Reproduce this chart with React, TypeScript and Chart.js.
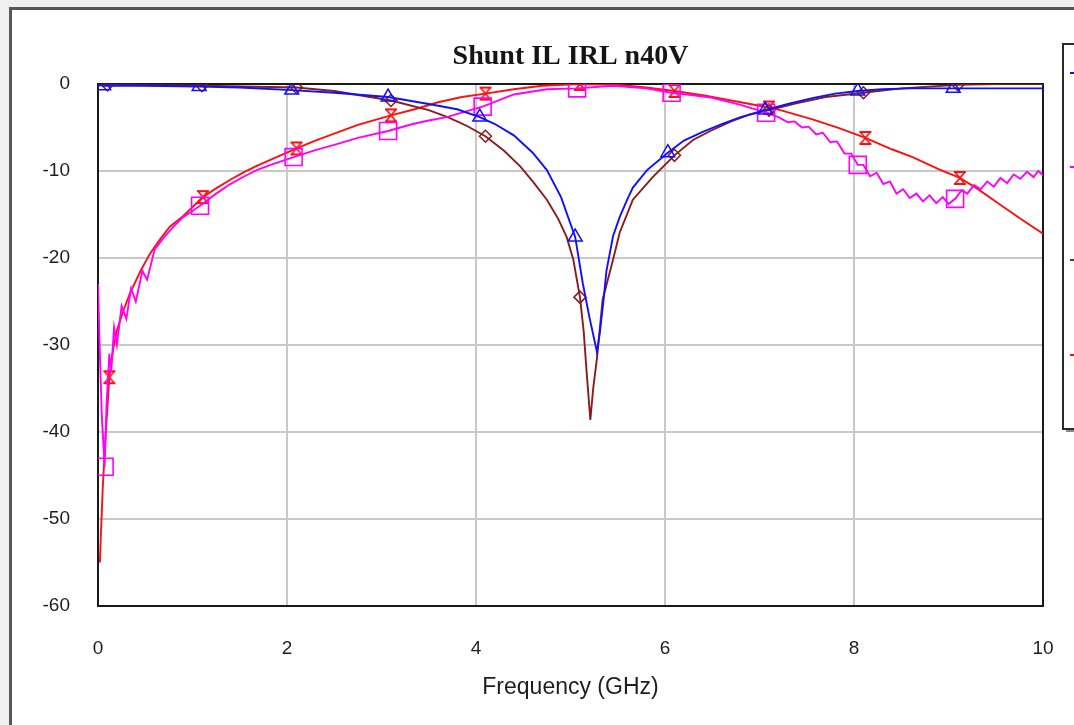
import React, { useEffect, useRef } from "react";
import { Chart, registerables } from "chart.js";

Chart.register(...registerables);

// [frequency GHz, dB]
const blueIL: [number, number][] = [
  [0, -0.1], [0.06, -0.2], [0.5, -0.2], [1.07, -0.3], [1.5, -0.4], [2.05, -0.7], [2.5, -1.0],
  [3.07, -1.5], [3.5, -2.3], [3.8, -2.9], [4.04, -3.8], [4.2, -4.6], [4.4, -5.9], [4.6, -7.9],
  [4.75, -9.9], [4.9, -13.0], [5.05, -17.6], [5.13, -22.9], [5.2, -26.8], [5.28, -30.8],
  [5.31, -28.6], [5.35, -24.8], [5.38, -21.5], [5.45, -17.5], [5.52, -15.3], [5.6, -13.3],
  [5.66, -11.9], [5.81, -9.9], [6.03, -7.9], [6.2, -6.5], [6.4, -5.5], [6.6, -4.6], [6.8, -3.8],
  [7.06, -3.0], [7.3, -2.3], [7.57, -1.6], [7.8, -1.1], [8.04, -0.8], [8.3, -0.6], [8.6, -0.5],
  [9.05, -0.5], [9.5, -0.5], [10, -0.5],
];
const blueMarks = [0.06, 1.07, 2.05, 3.07, 4.04, 5.05, 6.03, 7.06, 8.04, 9.05];

const magentaRL: [number, number][] = [
  [0, -23], [0.02, -31], [0.04, -38], [0.07, -44], [0.09, -37], [0.12, -31], [0.14, -33],
  [0.17, -28], [0.2, -30], [0.25, -25.5], [0.3, -27], [0.35, -23.5], [0.4, -25], [0.47, -21.5],
  [0.52, -22.5], [0.6, -19], [0.7, -17.6], [0.8, -16.4], [0.9, -15.3], [1.0, -14.6], [1.08, -14.0],
  [1.25, -12.6], [1.4, -11.5], [1.55, -10.6], [1.7, -9.8], [1.85, -9.2], [2.07, -8.4], [2.3, -7.6],
  [2.5, -7.0], [2.75, -6.2], [3.07, -5.4], [3.33, -4.6], [3.5, -4.2], [3.69, -3.8], [3.85, -3.3],
  [4.07, -2.6], [4.4, -1.2], [4.75, -0.6], [5.07, -0.5], [5.45, -0.2], [5.8, -0.5], [6.07, -1.0],
  [6.3, -1.3], [6.5, -1.6], [6.8, -2.4], [7.07, -3.3], [7.2, -3.8], [7.3, -4.4], [7.37, -4.3],
  [7.45, -5.0], [7.52, -4.9], [7.6, -5.8], [7.67, -5.6], [7.75, -6.7], [7.82, -6.6], [7.9, -8.0],
  [7.97, -8.0], [8.04, -9.3], [8.1, -9.3], [8.17, -10.6], [8.24, -10.2], [8.31, -11.5],
  [8.38, -11.2], [8.45, -12.6], [8.52, -12.1], [8.59, -13.1], [8.66, -12.6], [8.73, -13.5],
  [8.8, -12.8], [8.87, -13.7], [8.94, -13.0], [9.0, -13.8], [9.07, -13.2], [9.14, -12.2],
  [9.2, -12.6], [9.27, -11.6], [9.34, -12.1], [9.41, -11.2], [9.48, -11.8], [9.55, -10.8],
  [9.62, -11.4], [9.69, -10.4], [9.76, -10.9], [9.83, -10.1], [9.9, -10.7], [9.95, -10.0],
  [10, -10.5],
];
const magentaMarks = [0.07, 1.08, 2.07, 3.07, 4.07, 5.07, 6.07, 7.07, 8.04, 9.07];

const brownIL: [number, number][] = [
  [0, 0], [0.1, -0.1], [1.1, -0.2], [2.1, -0.4], [2.5, -0.8], [3.1, -1.9], [3.5, -3.0],
  [3.7, -3.8], [3.9, -4.8], [4.1, -6.0], [4.3, -7.7], [4.47, -9.5], [4.6, -11.2], [4.75, -13.3],
  [4.87, -15.5], [4.96, -17.6], [5.03, -20.2], [5.1, -24.5], [5.14, -28.5], [5.17, -33],
  [5.21, -38.6], [5.24, -35], [5.28, -31.5], [5.34, -24.8], [5.45, -20.2], [5.52, -17.1],
  [5.66, -13.3], [5.87, -10.7], [6.1, -8.2], [6.3, -6.4], [6.48, -5.4], [6.7, -4.3], [6.9, -3.5],
  [7.1, -3.0], [7.4, -2.2], [7.7, -1.5], [8.1, -1.0], [8.5, -0.5], [9.1, -0.1], [9.5, 0], [10, 0],
];
const brownMarks = [0.1, 1.1, 2.1, 3.1, 4.1, 5.1, 6.1, 7.1, 8.1, 9.1];

const redRL: [number, number][] = [
  [0.02, -55], [0.03, -52], [0.05, -46.5], [0.08, -40.5], [0.12, -33.7], [0.16, -30.5],
  [0.2, -28.3], [0.27, -26], [0.34, -24], [0.45, -21.5], [0.55, -19.5], [0.66, -17.8],
  [0.76, -16.4], [0.9, -15.2], [1.11, -13.0], [1.25, -12.0], [1.4, -11.0], [1.55, -10.1],
  [1.68, -9.4], [1.89, -8.4], [2.1, -7.4], [2.3, -6.5], [2.5, -5.7], [2.75, -4.7], [3.1, -3.6],
  [3.35, -2.9], [3.6, -2.1], [3.85, -1.5], [4.1, -1.1], [4.4, -0.6], [4.7, -0.2], [5.1, 0],
  [5.5, -0.1], [5.8, -0.4], [6.1, -0.8], [6.4, -1.3], [6.7, -1.9], [7.1, -2.7], [7.22, -3.0],
  [7.57, -4.1], [7.85, -5.1], [8.12, -6.2], [8.4, -7.5], [8.62, -8.4], [8.9, -9.8], [9.12, -10.8],
  [9.3, -12.0], [9.51, -13.6], [9.75, -15.4], [10, -17.2],
];
const redMarks = [0.12, 1.11, 2.1, 3.1, 4.1, 5.1, 6.1, 7.1, 8.12, 9.12];

const chartTitle = "Shunt IL IRL n40V";
const xAxisTitle = "Frequency (GHz)";
const seriesNames = ["IL 1", "IRL 1", "IL 2", "IRL 2"];

const BLUE = "#1010ff";
const MAGENTA = "#ff00ff";
const BROWN = "#8b1c1c";
const RED = "#ff1010";

function makeHourglass(color: string) {
  const c = document.createElement("canvas");
  c.width = 16;
  c.height = 16;
  const g = c.getContext("2d")!;
  g.strokeStyle = color;
  g.lineWidth = 1.8;
  g.beginPath();
  g.moveTo(2, 2); g.lineTo(14, 2);
  g.moveTo(2, 14); g.lineTo(14, 14);
  g.moveTo(3, 2); g.lineTo(13, 14);
  g.moveTo(13, 2); g.lineTo(3, 14);
  g.stroke();
  return c;
}

const markerRadius = (marks: number[], r: number) => (ctx: any) => {
  const raw = ctx && ctx.raw;
  if (!raw) return 0;
  return marks.some((m) => Math.abs(m - raw.x) < 1e-9) ? r : 0;
};

const toXY = (arr: [number, number][]) => arr.map(([x, y]) => ({ x, y }));

export default function App() {
  const ref = useRef<HTMLCanvasElement | null>(null);

  useEffect(() => {
    if (!ref.current) return;
    const tickFont = { family: "'Liberation Sans', Arial, sans-serif", size: 19 };
    const frame = {
      id: "frame",
      beforeDatasetsDraw(chart: any) {
        const { ctx, chartArea: a } = chart;
        ctx.save();
        ctx.strokeStyle = "#1a1a1a";
        ctx.lineWidth = 2;
        ctx.strokeRect(a.left, a.top, a.right - a.left, a.bottom - a.top);
        ctx.restore();
      },
    };
    const clippedLegend = {
      id: "clippedLegend",
      afterDraw(chart: any) {
        const { ctx } = chart;
        ctx.save();
        ctx.fillStyle = "#ffffff";
        ctx.fillRect(1063, 44, 40, 385);
        ctx.strokeStyle = "#2a2a2a";
        ctx.lineWidth = 2;
        ctx.strokeRect(1063, 44, 40, 385);
        ctx.strokeStyle = "#8a8a8a";
        ctx.lineWidth = 2;
        ctx.beginPath();
        ctx.moveTo(1066, 431);
        ctx.lineTo(1074, 431);
        ctx.stroke();
        const stubs: [number, string][] = [[73, BLUE], [167, MAGENTA], [260, BROWN], [355, RED]];
        stubs.forEach(([y, c]) => {
          ctx.strokeStyle = c;
          ctx.lineWidth = 2;
          ctx.beginPath();
          ctx.moveTo(1070, y);
          ctx.lineTo(1074, y);
          ctx.stroke();
        });
        ctx.restore();
      },
    };

    const chart = new Chart(ref.current, {
      type: "line",
      data: {
        datasets: [
          {
            label: seriesNames[0],
            data: toXY(blueIL),
            borderColor: BLUE,
            borderWidth: 1.9,
            pointStyle: "triangle",
            pointRadius: markerRadius(blueMarks, 8) as any,
            pointBorderColor: BLUE,
            pointBackgroundColor: "rgba(0,0,0,0)",
            pointBorderWidth: 1.5,
            tension: 0,
          },
          {
            label: seriesNames[1],
            data: toXY(magentaRL),
            borderColor: MAGENTA,
            borderWidth: 1.9,
            pointStyle: "rect",
            pointRadius: markerRadius(magentaMarks, 12) as any,
            pointBorderColor: MAGENTA,
            pointBackgroundColor: "rgba(0,0,0,0)",
            pointBorderWidth: 1.6,
            tension: 0,
          },
          {
            label: seriesNames[2],
            data: toXY(brownIL),
            borderColor: BROWN,
            borderWidth: 1.9,
            pointStyle: "rectRot",
            pointRadius: markerRadius(brownMarks, 6) as any,
            pointBorderColor: BROWN,
            pointBackgroundColor: "rgba(0,0,0,0)",
            pointBorderWidth: 1.5,
            tension: 0,
          },
          {
            label: seriesNames[3],
            data: toXY(redRL),
            borderColor: RED,
            borderWidth: 1.9,
            pointStyle: makeHourglass(RED) as any,
            pointRadius: markerRadius(redMarks, 7) as any,
            pointBorderColor: RED,
            pointBackgroundColor: "rgba(0,0,0,0)",
            tension: 0,
          },
        ],
      },
      options: {
        responsive: false,
        animation: false,
        devicePixelRatio: 1,
        layout: { padding: { left: 0, right: 31, top: 30, bottom: 20 } },
        plugins: {
          legend: { display: false },
          tooltip: { enabled: false },
          title: {
            display: true,
            text: chartTitle,
            fullSize: false,
            color: "#151515",
            font: { family: "'Liberation Serif', 'Times New Roman', serif", size: 28, weight: "bold" },
            padding: { top: 10, bottom: 10.4 },
          },
        },
        scales: {
          x: {
            type: "linear",
            min: 0,
            max: 10,
            afterFit: (s: any) => {
              s.height = 99;
              s.paddingLeft = 0;
              s.paddingRight = 0;
            },
            ticks: { stepSize: 2, padding: 31, color: "#1e1e1e", font: tickFont },
            grid: { color: "#c8c8c8", lineWidth: 2, drawTicks: false },
            border: { display: false },
            title: {
              display: true,
              text: xAxisTitle,
              color: "#1e1e1e",
              font: { family: "'Liberation Sans', Arial, sans-serif", size: 23 },
              padding: { top: 0, bottom: 3.5 },
            },
          },
          y: {
            min: -60,
            max: 0,
            afterFit: (s: any) => {
              s.width = 98;
            },
            ticks: { stepSize: 10, padding: 28, color: "#1e1e1e", font: tickFont },
            grid: { color: "#c8c8c8", lineWidth: 2, drawTicks: false },
            border: { display: false },
          },
        },
      } as any,
      plugins: [frame, clippedLegend],
    });
    return () => chart.destroy();
  }, []);

  return (
    <div
      style={{
        position: "fixed",
        left: 0,
        top: 0,
        width: 1074,
        height: 725,
        background: "#f0f0f0",
        overflow: "hidden",
      }}
    >
      <div
        style={{
          position: "absolute",
          left: 9,
          top: 7,
          width: 1200,
          height: 900,
          background: "#ffffff",
          borderLeft: "3px solid #585858",
          borderTop: "3px solid #585858",
        }}
      />
      <canvas
        ref={ref}
        width={1074}
        height={725}
        style={{ position: "absolute", left: 0, top: 0, width: 1074, height: 725 }}
      />
    </div>
  );
}
